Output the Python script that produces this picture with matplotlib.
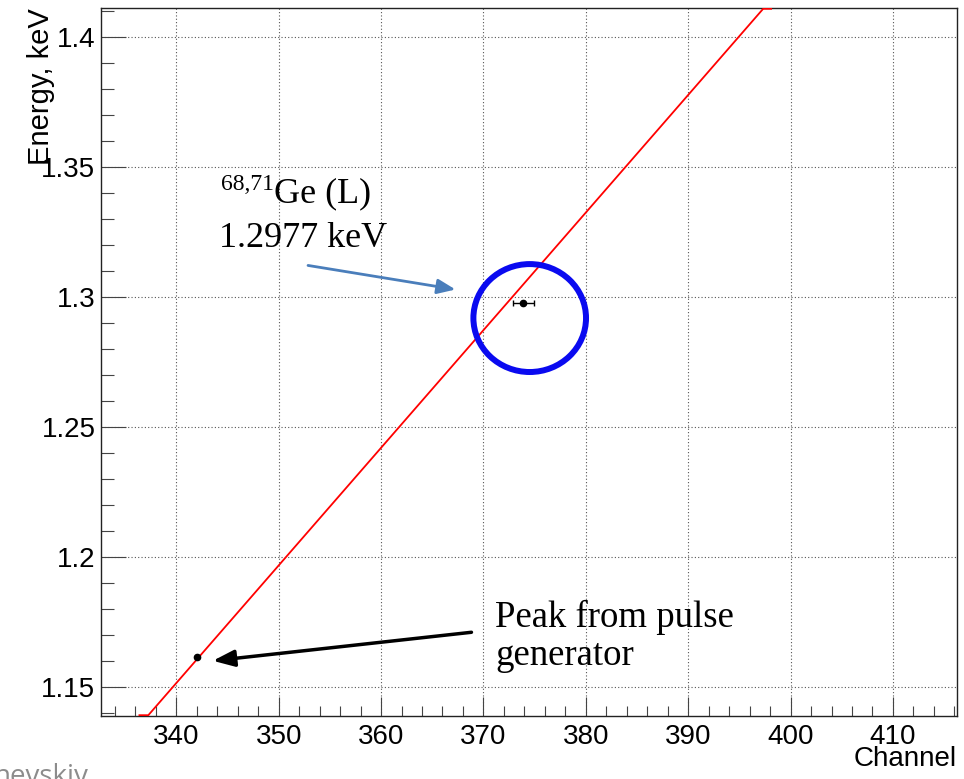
import matplotlib.pyplot as plt
from matplotlib.patches import Ellipse
from matplotlib.ticker import MultipleLocator

# measured peaks
channel = [342.0, 373.9]
energy = [1.1615, 1.2977]
channel_err = [0.0, 1.0]

# linear calibration line (ends where it leaves the frame)
fit_channel = [336.4, 337.27, 397.32, 398.1]
fit_energy = [1.1392, 1.1392, 1.4108, 1.4108]

xlim = (332.65, 416.25)
ylim = (1.1389, 1.4111)

fig = plt.figure(figsize=(9.64, 7.79), dpi=100)
ax = fig.add_axes([0.1048, 0.0809, 0.8879, 0.9088])

ax.plot(fit_channel, fit_energy, color='red', lw=1.3, zorder=3)
ax.errorbar(channel, energy, xerr=channel_err, fmt='o', color='black',
            ms=4.5, elinewidth=1.0, capsize=2.5, capthick=1.0, zorder=4)

ax.set_xlim(*xlim)
ax.set_ylim(*ylim)

ax.xaxis.set_major_locator(MultipleLocator(10))
ax.xaxis.set_minor_locator(MultipleLocator(2))
ax.yaxis.set_minor_locator(MultipleLocator(0.01))
ax.set_yticks([1.15, 1.2, 1.25, 1.3, 1.35, 1.4])
ax.set_yticklabels(['1.15', '1.2', '1.25', '1.3', '1.35', '1.4'])

sans = 'Liberation Sans'
ax.tick_params(axis='x', which='major', direction='in', length=13.5, width=0.8,
               color='#444444', pad=5.5, labelsize=20)
ax.tick_params(axis='x', which='minor', direction='in', length=7, width=0.8, color='#444444')
ax.tick_params(axis='y', which='major', direction='in', length=18, width=0.8,
               color='#444444', pad=4, labelsize=20)
ax.tick_params(axis='y', which='minor', direction='in', length=9.5, width=0.8, color='#444444')
for lbl in ax.get_xticklabels() + ax.get_yticklabels():
    lbl.set_fontfamily(sans)

for s in ax.spines.values():
    s.set_color('#222222')
    s.set_linewidth(1.0)

ax.grid(True, which='major', linestyle=(0, (1, 2)), color='#555555', lw=0.8)
ax.set_axisbelow(True)

ax.set_ylabel('Energy, keV', fontsize=21, family=sans, loc='top')
ax.yaxis.set_label_coords(-0.054, 1.0)
ax.set_xlabel('Channel', fontsize=20, family=sans, loc='right', va='baseline')
ax.xaxis.set_label_coords(1.0, -0.0706)

# highlight around the Ge peak
ax.add_patch(Ellipse((374.52, 1.2919), 11.0, 0.0415, fill=False,
                     edgecolor='#0a0af0', lw=4.3, zorder=5))

serif = 'Liberation Serif'
ax.text(349.57, 1.3365, 'Ge (L)', family=serif, fontsize=26, va='baseline', ha='left')
ax.text(349.57, 1.3412, '68,71', family=serif, fontsize=17, va='baseline', ha='right')
ax.text(344.2, 1.3192, '1.2977 keV', family=serif, fontsize=26, va='baseline', ha='left')
ax.annotate('', xy=(367.54, 1.3027), xytext=(352.6, 1.3123),
            arrowprops=dict(arrowstyle='-|>,head_length=1.1,head_width=0.45',
                            color='#4a7ebb', lw=2))

ax.text(371.15, 1.1731, 'Peak from pulse', family=serif, fontsize=26.5, va='baseline', ha='left')
ax.text(371.15, 1.1585, 'generator', family=serif, fontsize=26.5, va='baseline', ha='left')
ax.annotate('', xy=(343.3, 1.1600), xytext=(369.1, 1.1712),
            arrowprops=dict(arrowstyle='-|>,head_length=1.3,head_width=0.5',
                            color='black', lw=2.5))

fig.text(89 / 964, -0.0064, 'nevskiy', family='Open Sans', fontsize=20,
         color='#8c8c8c', ha='right', va='baseline')

fig.savefig('out.png', dpi=100)
